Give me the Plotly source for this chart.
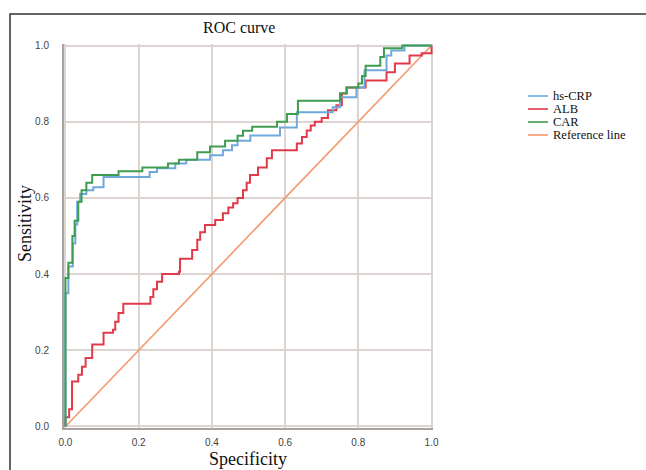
import plotly.graph_objects as go

# ---------------- data ----------------
car_x = [0, 0, 0.008, 0.019, 0.025, 0.035, 0.044, 0.057, 0.073, 0.145, 0.21, 0.28, 0.31,
         0.36, 0.395, 0.436, 0.47, 0.485, 0.51, 0.578, 0.605, 0.635, 0.75, 0.768, 0.80,
         0.81, 0.82, 0.86, 0.87, 0.92, 1.0]
car_y = [0, 0.39, 0.43, 0.50, 0.54, 0.59, 0.62, 0.64, 0.66, 0.67, 0.68, 0.69, 0.70,
         0.72, 0.735, 0.75, 0.763, 0.776, 0.787, 0.80, 0.82, 0.855, 0.875, 0.89, 0.90,
         0.92, 0.947, 0.97, 0.993, 1.0, 1.0]

crp_x = [0, 0, 0.008, 0.02, 0.027, 0.032, 0.04, 0.057, 0.076, 0.104, 0.23, 0.25, 0.30,
         0.33, 0.395, 0.43, 0.455, 0.47, 0.505, 0.586, 0.632, 0.73, 0.75, 0.795, 0.817,
         0.877, 0.89, 0.926, 1.0]
crp_y = [0, 0.35, 0.42, 0.48, 0.53, 0.59, 0.61, 0.62, 0.628, 0.655, 0.668, 0.678, 0.69,
         0.70, 0.712, 0.725, 0.738, 0.75, 0.764, 0.785, 0.825, 0.838, 0.864, 0.89, 0.935,
         0.974, 0.987, 1.0, 1.0]

alb_x = [0, 0, 0.01, 0.018, 0.035, 0.045, 0.055, 0.073, 0.104, 0.13, 0.136, 0.145, 0.158,
         0.232, 0.24, 0.25, 0.264, 0.31, 0.313, 0.346, 0.36, 0.368, 0.381, 0.409, 0.43,
         0.445, 0.458, 0.47, 0.485, 0.495, 0.504, 0.526, 0.55, 0.564, 0.632, 0.646, 0.659,
         0.67, 0.681, 0.70, 0.717, 0.74, 0.755, 0.768, 0.82, 0.877, 0.9, 0.94, 0.973, 1.0]
alb_y = [0, 0.024, 0.045, 0.118, 0.136, 0.157, 0.18, 0.215, 0.246, 0.254, 0.275, 0.298, 0.322,
         0.34, 0.36, 0.38, 0.40, 0.406, 0.44, 0.463, 0.49, 0.51, 0.529, 0.542, 0.56,
         0.575, 0.586, 0.60, 0.62, 0.64, 0.66, 0.68, 0.704, 0.725, 0.743, 0.76, 0.777,
         0.79, 0.80, 0.81, 0.83, 0.843, 0.874, 0.89, 0.908, 0.93, 0.953, 0.974, 0.98, 1.0]

ref_x = [0, 1]
ref_y = [0, 1]

tick_vals = [0, 0.2, 0.4, 0.6, 0.8, 1.0]
tick_text = ["0.0", "0.2", "0.4", "0.6", "0.8", "1.0"]

series_names = ["hs-CRP", "ALB", "CAR", "Reference line"]
series_colors = ["#6fa9dc", "#e03a4b", "#3f9c50", "#f39a6c"]

# ---------------- layout geometry ----------------
W, H = 646, 470
L, R, T, B = 64, 213, 44, 42
PW, PH = W - L - R, H - T - B


def px(x):
    return (x - L) / PW


def py(y):
    return (H - B - y) / PH


serif = "Liberation Serif, Times New Roman, serif"
sans = "Liberation Sans, Arial, sans-serif"

fig = go.Figure()
fig.add_trace(go.Scatter(x=ref_x, y=ref_y, mode="lines", name=series_names[3],
                         line=dict(color=series_colors[3], width=1.6), showlegend=False))
fig.add_trace(go.Scatter(x=alb_x, y=alb_y, mode="lines", name=series_names[1], line_shape="hv",
                         line=dict(color=series_colors[1], width=2), showlegend=False))
fig.add_trace(go.Scatter(x=crp_x, y=crp_y, mode="lines", name=series_names[0], line_shape="hv",
                         line=dict(color=series_colors[0], width=2), showlegend=False))
fig.add_trace(go.Scatter(x=car_x, y=car_y, mode="lines", name=series_names[2], line_shape="hv",
                         line=dict(color=series_colors[2], width=2), showlegend=False))

axis_common = dict(
    range=[-0.004, 1.004], tickvals=tick_vals, ticktext=tick_text,
    showgrid=True, gridcolor="#dcd5d1", gridwidth=1.5,
    showline=True, linecolor="#a9a4a1", linewidth=2,
    zeroline=False, ticks="", tickfont=dict(family=sans, size=10, color="#444"),
    fixedrange=True,
)
fig.update_xaxes(**axis_common, ticklabelstandoff=4)
fig.update_yaxes(**axis_common, ticklabelstandoff=11)

annotations = [
    dict(text="ROC curve", x=px(239), y=py(28), xref="paper", yref="paper",
         showarrow=False, font=dict(family=serif, size=16, color="#111"),
         xanchor="center", yanchor="middle"),
    dict(text="Specificity", x=px(248), y=py(459), xref="paper", yref="paper",
         showarrow=False, font=dict(family=serif, size=18, color="#111"),
         xanchor="center", yanchor="middle"),
    dict(text="Sensitivity", x=px(25), y=py(224), xref="paper", yref="paper",
         showarrow=False, textangle=-90, font=dict(family=serif, size=18, color="#111"),
         xanchor="center", yanchor="middle"),
]

shapes = [
    dict(type="rect", xref="paper", yref="paper", x0=px(10), x1=px(700), y0=py(14), y1=py(520),
         line=dict(color="#333", width=1.5), fillcolor="rgba(0,0,0,0)", layer="above"),
]

legend_rows = [96, 109, 122, 135]
for name, color, yy in zip(series_names, series_colors, legend_rows):
    shapes.append(dict(type="line", xref="paper", yref="paper", x0=px(528), x1=px(548),
                       y0=py(yy), y1=py(yy), line=dict(color=color, width=1.6)))
    annotations.append(dict(text=name, x=px(551), y=py(yy), xref="paper", yref="paper",
                            showarrow=False, xanchor="left", yanchor="middle",
                            font=dict(family=serif, size=12.5, color="#111")))

fig.update_layout(
    width=W, height=H,
    margin=dict(l=L, r=R, t=T, b=B, pad=0),
    paper_bgcolor="white", plot_bgcolor="white",
    showlegend=False,
    annotations=annotations, shapes=shapes,
)

fig.write_html("out.html", config={"displayModeBar": False},
               post_script="document.body.style.margin='0';document.body.style.overflow='hidden';")
